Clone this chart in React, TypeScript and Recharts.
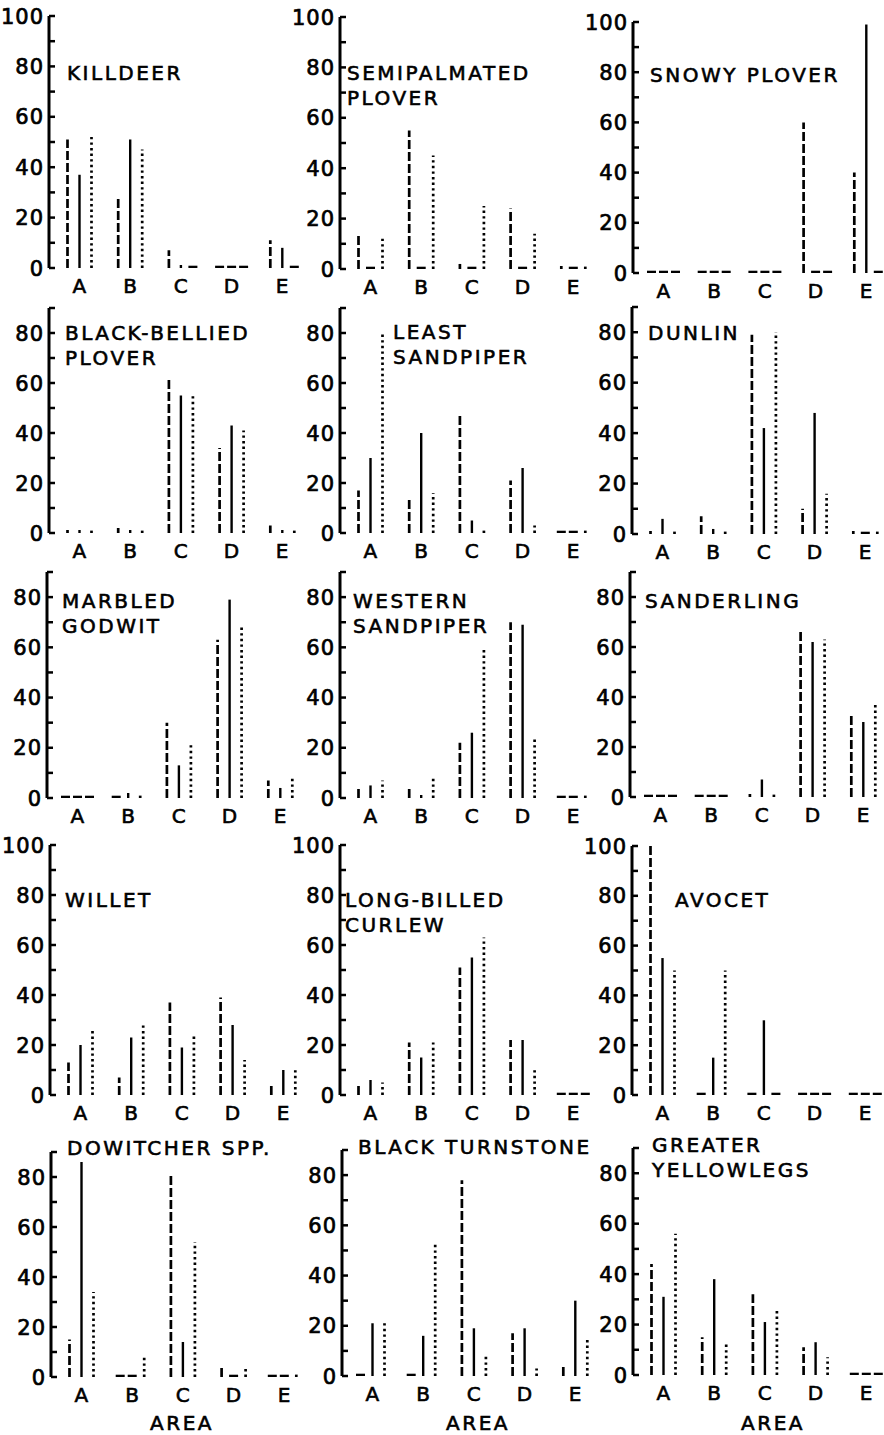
import React from 'react';
import { BarChart, Bar, XAxis, YAxis } from 'recharts';

// Areas (categories)
const areas = ['A', 'B', 'C', 'D', 'E'];
// Each species: [dashed series, solid series, dotted series], values for areas A..E
const killdeer = [[51, 28, 7, 0, 11], [37, 51, 1, 0, 8], [52, 47, 0, 0, 0]];
const semipalmatedPlover = [[14, 55, 2, 24, 1], [0, 0, 0, 0, 0], [12, 45, 25, 14, 1]];
const snowyPlover = [[0, 0, 0, 60, 40], [0, 0, 0, 0, 99], [0, 0, 0, 0, 0]];
const blackBelliedPlover = [[0.5, 2, 62, 34, 3], [0.5, 1, 55, 43, 1], [0.5, 1, 56, 41, 2]];
const leastSandpiper = [[17, 14, 48, 21, 0], [30, 40, 5, 26, 0], [80, 16, 1, 3, 1]];
const dunlin = [[1, 7, 79, 10, 1], [6, 2, 42, 48, 0], [1, 1, 80, 16, 2]];
const marbledGodwit = [[0, 0, 30, 63, 7], [0, 2, 13, 79, 4], [0, 1, 22, 69, 8]];
const westernSandpiper = [[4, 4, 22, 70, 0], [5, 1, 26, 69, 0], [7, 9, 60, 24, 0.5]];
const sanderling = [[0, 0, 0.5, 66, 33], [0, 0, 7, 62, 30], [0, 0, 0.5, 63, 38]];
const willet = [[13, 7, 37, 39, 4], [20, 23, 19, 28, 10], [26, 28, 24, 14, 10]];
const longBilledCurlew = [[4, 21, 51, 22, 0], [6, 15, 55, 22, 0], [5, 21, 63, 11, 0]];
const avocet = [[100, 0, 0, 0, 0], [55, 15, 30, 0, 0], [50, 50, 0, 0, 0]];
const dowitcher = [[15, 0, 81, 4, 0], [86, 0, 14, 0, 0], [34, 8, 54, 4, 1]];
const blackTurnstone = [[0, 0, 78, 17, 4], [21, 16, 19, 19, 30], [21, 53, 8, 3, 15]];
const greaterYellowlegs = [[44, 15, 32, 11, 0], [31, 38, 21, 13, 0], [56, 13, 26, 7, 0]];

const ticks100 = [0, 10, 20, 30, 40, 50, 60, 70, 80, 90, 100];
const ticks90 = [0, 10, 20, 30, 40, 50, 60, 70, 80, 90];

const FONT = "'DejaVu Sans', sans-serif";

const panels = [
  { title: ['KILLDEER'], data: killdeer, axisX: 49, yTop: 16, base: 268, max: 100, tx: 67, ty: 80 },
  { title: ['SEMIPALMATED', 'PLOVER'], data: semipalmatedPlover, axisX: 340, yTop: 17, base: 269, max: 100, tx: 347, ty: 80 },
  { title: ['SNOWY PLOVER'], data: snowyPlover, axisX: 633, yTop: 22, base: 273, max: 100, tx: 650, ty: 82 },
  { title: ['BLACK-BELLIED', 'PLOVER'], data: blackBelliedPlover, axisX: 49, yTop: 308, base: 533, max: 90, tx: 65, ty: 340 },
  { title: ['LEAST', 'SANDPIPER'], data: leastSandpiper, axisX: 340, yTop: 308, base: 533, max: 90, tx: 393, ty: 339 },
  { title: ['DUNLIN'], data: dunlin, axisX: 632, yTop: 307, base: 534, max: 90, tx: 648, ty: 340 },
  { title: ['MARBLED', 'GODWIT'], data: marbledGodwit, axisX: 47, yTop: 572, base: 798, max: 90, tx: 62, ty: 608 },
  { title: ['WESTERN', 'SANDPIPER'], data: westernSandpiper, axisX: 340, yTop: 572, base: 798, max: 90, tx: 353, ty: 608 },
  { title: ['SANDERLING'], data: sanderling, axisX: 630, yTop: 572, base: 797, max: 90, tx: 645, ty: 608 },
  { title: ['WILLET'], data: willet, axisX: 50, yTop: 845, base: 1095, max: 100, tx: 65, ty: 907 },
  { title: ['LONG-BILLED', 'CURLEW'], data: longBilledCurlew, axisX: 340, yTop: 845, base: 1095, max: 100, tx: 345, ty: 907 },
  { title: ['AVOCET'], data: avocet, axisX: 632, yTop: 846, base: 1095, max: 100, tx: 675, ty: 907 },
  { title: ['DOWITCHER SPP.'], data: dowitcher, axisX: 51, yTop: 1152, base: 1377, max: 90, tx: 67, ty: 1155, area: 182 },
  { title: ['BLACK TURNSTONE'], data: blackTurnstone, axisX: 342, yTop: 1150, base: 1376, max: 90, tx: 358, ty: 1154, area: 478 },
  { title: ['GREATER', 'YELLOWLEGS'], data: greaterYellowlegs, axisX: 633, yTop: 1148, base: 1375, max: 90, tx: 652, ty: 1152, area: 773 },
];

const KEYS = ['dashed', 'solid', 'dotted'];

const makeShape = (kind: string) => (props: any) => {
  const { x, y, width, height, payload } = props;
  const v = payload[kind];
  const cx = x + width / 2;
  const base = y + height;
  if (!v) {
    return <line x1={cx - 4.5} x2={cx + 4.5} y1={base - 1} y2={base - 1} stroke="#000" strokeWidth={2.6} />;
  }
  const top = Math.min(y, base - 3);
  const dash = kind === 'dashed' ? '9 3' : kind === 'dotted' ? '2.4 3.2' : undefined;
  return (
    <line x1={cx} x2={cx} y1={base} y2={top} stroke="#000"
      strokeWidth={kind === 'solid' ? 2.4 : 2.7} strokeDasharray={dash} />
  );
};

const YTick = (props: any) => {
  const { x, y, payload } = props;
  const v = payload.value;
  return (
    <g>
      <line x1={x} x2={x + 6} y1={y} y2={y} stroke="#000" strokeWidth={2.5} />
      {v % 20 === 0 && (
        <text x={x - 5} y={y} dy="0.36em" textAnchor="end" fontFamily={FONT} fontSize={21}
          letterSpacing={1} fill="#000" stroke="#000" strokeWidth={0.7}>{v}</text>
      )}
    </g>
  );
};

const XTick = (props: any) => {
  const { x, y, payload } = props;
  return (
    <text x={x} y={y} dy="0.73em" textAnchor="middle" fontFamily={FONT} fontSize={20}
      fill="#000" stroke="#000" strokeWidth={0.6}>{payload.value}</text>
  );
};

const Panel = ({ p }: { p: any }) => {
  const Lw = 50;
  const plotW = 262;
  const T = 10;
  const XH = 40;
  const plotH = p.base - p.yTop;
  const width = Lw + plotW + 4;
  const height = T + plotH + XH;
  const rows = areas.map((a, i) => ({ area: a, dashed: p.data[0][i], solid: p.data[1][i], dotted: p.data[2][i] }));
  return (
    <div style={{ position: 'absolute', left: p.axisX - Lw, top: p.yTop - T }}>
      <BarChart width={width} height={height} data={rows} margin={{ top: T, right: 4, bottom: 0, left: 0 }}
        barSize={3} barGap={9}>
        <XAxis dataKey="area" axisLine={false} tickLine={false} tickSize={0} tickMargin={10}
          padding={{ left: 5, right: 3.5 }} height={XH} interval={0} tick={(tp: any) => <XTick {...tp} />} />
        <YAxis type="number" width={Lw} domain={[0, p.max]} ticks={p.max === 100 ? ticks100 : ticks90}
          interval={0} tickSize={0} tickMargin={0} tickLine={false} allowDataOverflow
          axisLine={{ stroke: '#000', strokeWidth: 3 }} tick={(tp: any) => <YTick {...tp} />} />
        {KEYS.map((k) => (
          <Bar key={k} dataKey={k} isAnimationActive={false} shape={makeShape(k)} />
        ))}
      </BarChart>
    </div>
  );
};

export default function App() {
  return (
    <div style={{ position: 'absolute', left: 0, top: 0, width: 884, height: 1435, background: '#fff', overflow: 'hidden' }}>
      {panels.map((p, i) => <Panel key={i} p={p} />)}
      <svg width={884} height={1435} style={{ position: 'absolute', left: 0, top: 0, pointerEvents: 'none' }}>
        {panels.map((p, i) => (
          <g key={i}>
            {p.title.map((t: string, j: number) => (
              <text key={j} x={p.tx} y={p.ty + j * 25} fontFamily={FONT} fontSize={20} letterSpacing={2.5}
                fill="#000" stroke="#000" strokeWidth={0.6}>{t}</text>
            ))}
            {p.area !== undefined && (
              <text x={p.area} y={1430} textAnchor="middle" fontFamily={FONT} fontSize={20} letterSpacing={2.5}
                fill="#000" stroke="#000" strokeWidth={0.6}>AREA</text>
            )}
          </g>
        ))}
      </svg>
    </div>
  );
}
